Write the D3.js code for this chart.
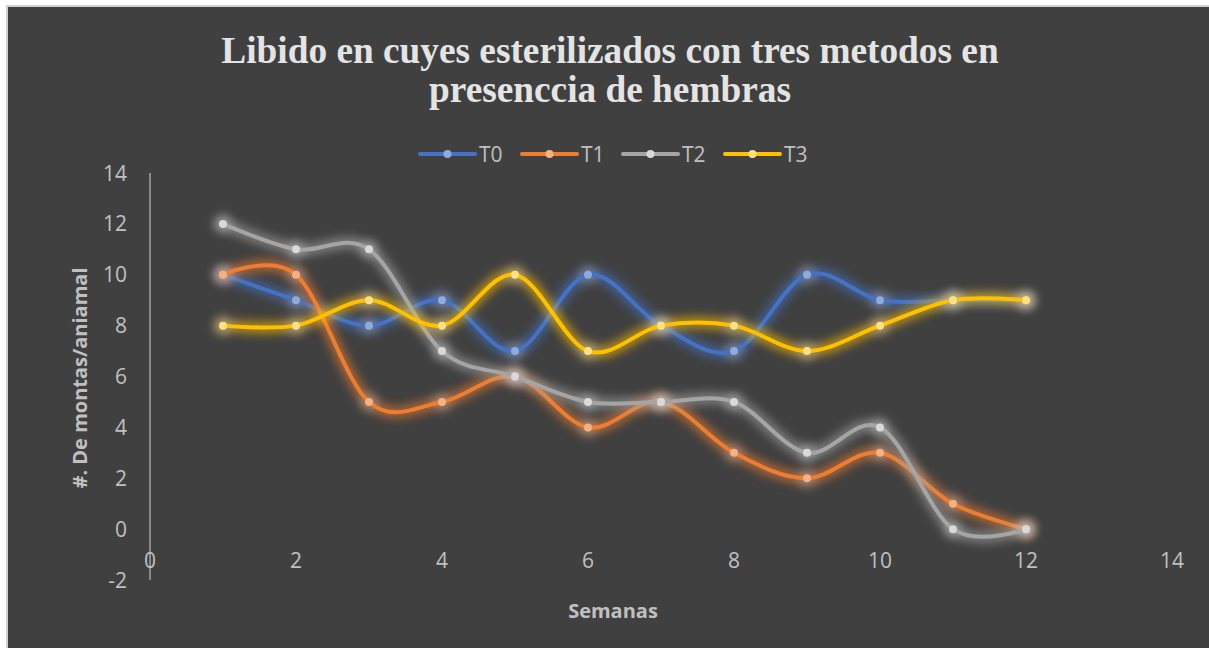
<!DOCTYPE html>
<html>
<head>
<meta charset="utf-8">
<script src="https://cdn.jsdelivr.net/npm/d3@7"></script>
<style>
  body { margin: 0; background: #ffffff; }
  svg { display: block; }
</style>
</head>
<body>
<svg width="1209" height="648"></svg>
<script>
// weeks and series
var semanas = [1, 2, 3, 4, 5, 6, 7, 8, 9, 10, 11, 12];
var t0 = [10, 9, 8, 9, 7, 10, 8, 7, 10, 9, 9, 9];
var t1 = [10, 10, 5, 5, 6, 4, 5, 3, 2, 3, 1, 0];
var t2 = [12, 11, 11, 7, 6, 5, 5, 5, 3, 4, 0, 0];
var t3 = [8, 8, 9, 8, 10, 7, 8, 8, 7, 8, 9, 9];
var seriesNames = ["T0", "T1", "T2", "T3"];
var xTicks = [0, 2, 4, 6, 8, 10, 12, 14];
var yTicks = [-2, 0, 2, 4, 6, 8, 10, 12, 14];

var lineColors = ["#4472C4", "#ED7D31", "#A5A5A5", "#FFC000"];
var markerColors = ["#8FAADC", "#F4B183", "#D9D9D9", "#FFE083"];

var svg = d3.select("svg");
var width = 1209, height = 648;

// chart frame
svg.append("rect").attr("x", 6).attr("y", 5).attr("width", width - 6).attr("height", height - 5)
  .attr("fill", "#d0d0d0");
svg.append("rect").attr("x", 8).attr("y", 7).attr("width", width - 8).attr("height", height - 7)
  .attr("fill", "#404040");

var defs = svg.append("defs");
var f = defs.append("filter").attr("id", "glow")
  .attr("x", "-20%").attr("y", "-20%").attr("width", "140%").attr("height", "140%");
f.append("feGaussianBlur").attr("stdDeviation", 5);

var x = d3.scaleLinear().domain([0, 14]).range([150, 1172]);
var y = d3.scaleLinear().domain([-2, 14]).range([580, 173]);

// title
var title = svg.append("g")
  .attr("font-family", "'Liberation Serif', 'Times New Roman', serif")
  .attr("font-weight", "bold")
  .attr("font-size", 37.3)
  .attr("fill", "#e4e4e4")
  .attr("text-anchor", "middle");
title.append("text").attr("x", 610).attr("y", 63).text("Libido en cuyes esterilizados con tres metodos en");
title.append("text").attr("x", 610).attr("y", 102).text("presenccia de hembras");

var font = "'Open Sans', 'Liberation Sans', sans-serif";
var textColor = "#c0c0c0";

// y axis line
svg.append("line")
  .attr("x1", x(0)).attr("x2", x(0))
  .attr("y1", y(14)).attr("y2", y(-2))
  .attr("stroke", "#8a8a8a").attr("stroke-width", 2);

// tick labels
svg.append("g").selectAll("text")
  .data(yTicks)
  .enter()
  .append("text")
  .attr("x", 127)
  .attr("y", function(d){ return y(d); })
  .attr("dy", "0.36em")
  .attr("text-anchor", "end")
  .attr("font-family", font)
  .attr("font-size", 21)
  .attr("fill", textColor)
  .text(function(d){ return d; });

svg.append("g").selectAll("text")
  .data(xTicks)
  .enter()
  .append("text")
  .attr("x", function(d){ return x(d); })
  .attr("y", 568)
  .attr("text-anchor", "middle")
  .attr("font-family", font)
  .attr("font-size", 21)
  .attr("fill", textColor)
  .text(function(d){ return d; });

// axis titles
svg.append("text")
  .attr("transform", "translate(87,378) rotate(-90)")
  .attr("text-anchor", "middle")
  .attr("font-family", font)
  .attr("font-weight", "bold")
  .attr("font-size", 20)
  .attr("fill", textColor)
  .text("#. De montas/aniamal");

svg.append("text")
  .attr("x", 613)
  .attr("y", 618)
  .attr("text-anchor", "middle")
  .attr("font-family", font)
  .attr("font-weight", "bold")
  .attr("font-size", 20)
  .attr("fill", textColor)
  .text("Semanas");

// series
var allSeries = [t0, t1, t2, t3].map(function(vals, i){
  return {
    name: seriesNames[i],
    points: vals.map(function(v, j){ return [semanas[j], v]; }),
    color: lineColors[i],
    marker: markerColors[i]
  };
});

var line = d3.line()
  .x(function(d){ return x(d[0]); })
  .y(function(d){ return y(d[1]); })
  .curve(d3.curveCardinal.tension(0));

allSeries.forEach(function(s){
  var g = svg.append("g");
  var glow = g.append("g").attr("filter", "url(#glow)").attr("opacity", 0.6);
  glow.append("path")
    .attr("d", line(s.points))
    .attr("fill", "none")
    .attr("stroke", s.color)
    .attr("stroke-width", 12);
  glow.selectAll("circle")
    .data(s.points)
    .enter()
    .append("circle")
    .attr("cx", function(d){ return x(d[0]); })
    .attr("cy", function(d){ return y(d[1]); })
    .attr("r", 9)
    .attr("fill", s.marker);

  g.append("path")
    .attr("d", line(s.points))
    .attr("fill", "none")
    .attr("stroke", s.color)
    .attr("stroke-width", 4)
    .attr("stroke-linecap", "round");
  g.selectAll("circle.m")
    .data(s.points)
    .enter()
    .append("circle")
    .attr("class", "m")
    .attr("cx", function(d){ return x(d[0]); })
    .attr("cy", function(d){ return y(d[1]); })
    .attr("r", 4)
    .attr("fill", s.marker);
});

// legend
var legendX = [420, 522, 623, 725];
var legend = svg.append("g");
allSeries.forEach(function(s, i){
  var lg = legend.append("g").attr("transform", "translate(" + legendX[i] + ",154)");
  lg.append("line").attr("x1", 0).attr("x2", 55).attr("y1", 0).attr("y2", 0)
    .attr("stroke", s.color).attr("stroke-width", 4).attr("stroke-linecap", "round");
  lg.append("circle").attr("cx", 27.5).attr("cy", 0).attr("r", 4).attr("fill", s.marker);
  lg.append("text").attr("x", 59).attr("y", 0).attr("dy", "0.36em")
    .attr("font-family", font).attr("font-size", 21).attr("fill", textColor)
    .text(s.name);
});
</script>
</body>
</html>
